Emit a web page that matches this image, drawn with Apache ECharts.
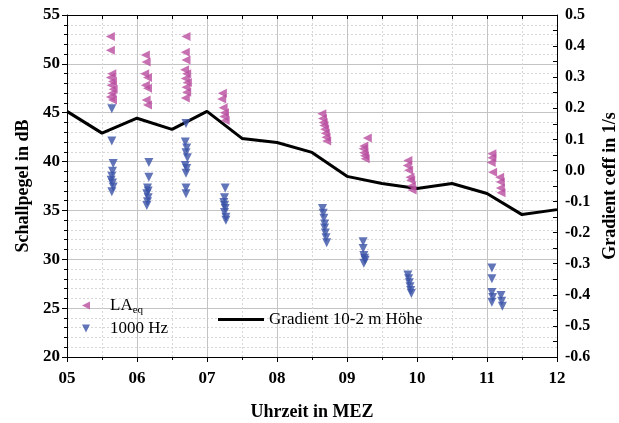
<!DOCTYPE html>
<html>
<head>
<meta charset="utf-8">
<script src="https://cdn.jsdelivr.net/npm/echarts@6/dist/echarts.min.js"></script>
<style>
  html, body { margin: 0; padding: 0; background: #fff; }
  #chart { width: 619px; height: 423px; }
</style>
</head>
<body>
<div id="chart"></div>
<script>
// Schallpegel (dB) – [Uhrzeit, Wert]
var laeq = [
  [5.62, 52.8], [5.62, 51.4], [5.64, 49.0], [5.62, 48.6], [5.65, 48.2], [5.63, 47.8], [5.66, 47.4], [5.64, 47.0], [5.62, 46.6], [5.65, 46.3],
  [6.12, 50.9], [6.13, 50.2], [6.11, 49.0], [6.15, 48.6], [6.12, 47.8], [6.15, 47.5], [6.13, 46.3], [6.15, 45.8],
  [6.70, 52.8], [6.69, 51.2], [6.70, 50.4], [6.68, 49.4], [6.71, 49.0], [6.69, 48.5], [6.72, 48.1], [6.70, 47.6], [6.71, 47.1], [6.69, 46.5],
  [7.22, 47.0], [7.21, 46.4], [7.23, 45.5], [7.25, 45.0], [7.24, 44.6], [7.26, 44.2],
  [8.64, 44.9], [8.65, 44.4], [8.66, 44.0], [8.67, 43.7], [8.68, 43.3], [8.69, 42.9], [8.70, 42.5], [8.71, 42.1],
  [9.29, 42.4], [9.24, 41.6], [9.23, 41.3], [9.24, 40.9], [9.25, 40.6], [9.26, 40.3],
  [9.87, 40.1], [9.86, 39.6], [9.88, 39.1], [9.90, 38.4], [9.91, 38.1], [9.92, 37.5], [9.93, 37.1],
  [11.07, 40.8], [11.07, 40.4], [11.06, 39.9], [11.08, 38.9], [11.18, 38.4], [11.19, 37.9], [11.19, 37.3], [11.20, 36.8]
];
var hz1000 = [
  [5.64, 45.4], [5.64, 42.1], [5.66, 39.8], [5.65, 39.0], [5.64, 38.5], [5.63, 38.1], [5.65, 37.8], [5.66, 37.4], [5.64, 36.9],
  [6.17, 39.9], [6.17, 38.4], [6.15, 37.3], [6.16, 37.0], [6.14, 36.7], [6.16, 36.3], [6.15, 35.9], [6.14, 35.5],
  [6.70, 43.9], [6.69, 42.0], [6.71, 41.4], [6.70, 40.9], [6.72, 40.4], [6.69, 39.6], [6.71, 39.3], [6.70, 38.8], [6.70, 37.3], [6.70, 36.7],
  [7.26, 37.3], [7.25, 36.3], [7.24, 35.8], [7.25, 35.5], [7.26, 35.2], [7.25, 34.8], [7.27, 34.3], [7.27, 34.0],
  [8.65, 35.2], [8.66, 34.7], [8.67, 34.2], [8.68, 33.6], [8.68, 33.2], [8.69, 32.7], [8.70, 32.2], [8.71, 31.7],
  [9.23, 31.8], [9.23, 31.1], [9.24, 30.4], [9.25, 30.1], [9.26, 29.9], [9.24, 29.6],
  [9.87, 28.4], [9.88, 28.0], [9.89, 27.6], [9.90, 27.2], [9.91, 26.8], [9.92, 26.5],
  [11.07, 29.1], [11.07, 28.0], [11.07, 26.6], [11.08, 26.1], [11.07, 25.6], [11.20, 26.3], [11.21, 25.7], [11.22, 25.2]
];
// Gradient 10-2 m (1/s)
var gradHours = [5, 5.5, 6, 6.5, 7, 7.5, 8, 8.5, 9, 9.5, 10, 10.5, 11, 11.5, 12];
var gradVals = [0.19, 0.12, 0.168, 0.132, 0.19, 0.103, 0.09, 0.058, -0.019, -0.042, -0.058, -0.042, -0.074, -0.142, -0.126];

var serif = '"Liberation Serif", "DejaVu Serif", serif';
var magenta = '#b94ea0';
var blue = '#3a53a6';
var triLeft = 'path://M0,5L10,0L10,10Z';
var triDown = 'path://M0,0L10,0L5,10Z';

var gradData = [];
for (let i = 0; i < gradHours.length; i++) {
  gradData.push([gradHours[i], gradVals[i]]);
}

var chart = echarts.init(document.getElementById('chart'));
var option = {
  animation: false,
  grid: { left: 67, right: 62, top: 15, bottom: 66, outerBoundsMode: 'none' },
  legend: [{
    data: [{ name: 'LAeq', icon: triLeft }, { name: '1000 Hz', icon: triDown }],
    orient: 'vertical',
    left: 77, top: 292,
    itemWidth: 8, itemHeight: 8, itemGap: 4,
    textStyle: {
      fontFamily: serif, fontSize: 17, color: '#000',
      rich: {
        m: { fontFamily: serif, fontSize: 17, color: '#000', padding: [0, 0, 0, 15] },
        s: { fontFamily: serif, fontSize: 11, color: '#000', padding: [10, 0, 0, 0] }
      }
    },
    formatter: function (name) {
      return name === 'LAeq' ? '{m|LA}{s|eq}' : '{m|' + name + '}';
    }
  }, {
    data: ['Gradient 10-2 m Höhe'],
    left: 213, top: 306,
    itemWidth: 46, itemHeight: 3,
    icon: 'rect',
    textStyle: { fontFamily: serif, fontSize: 17, color: '#000' }
  }],
  xAxis: [{
    type: 'value', min: 5, max: 12, interval: 1,
    name: 'Uhrzeit in MEZ', nameLocation: 'middle', nameGap: 46,
    nameTextStyle: { fontFamily: serif, fontSize: 18, fontWeight: 'bold', color: '#000' },
    axisLine: { onZero: false, lineStyle: { color: '#000', width: 1 } },
    axisTick: { inside: false, length: 5, lineStyle: { color: '#000' } },
    minorTick: { show: true, splitNumber: 2, length: 3, lineStyle: { color: '#000' } },
    axisLabel: {
      fontFamily: serif, fontSize: 17, fontWeight: 'bold', color: '#000', margin: 13,
      formatter: function (v) { return v < 10 ? '0' + v : '' + v; }
    },
    splitLine: { show: true, lineStyle: { color: '#c4c4c4', width: 1 } },
    minorSplitLine: { show: true, lineStyle: { color: '#d6d6d6', type: [2, 2], width: 1 } }
  }, {
    type: 'value', min: 5, max: 12, interval: 0.5, position: 'top',
    axisLine: { show: true, onZero: false, lineStyle: { color: '#000' } },
    axisTick: { show: true, inside: true, length: 4, lineStyle: { color: '#000' } },
    axisLabel: { show: false },
    splitLine: { show: false }
  }],
  yAxis: [{
    type: 'value', min: 20, max: 55, interval: 5,
    name: 'Schallpegel in dB', nameLocation: 'middle', nameGap: 26, nameRotate: 90,
    nameTextStyle: { fontFamily: serif, fontSize: 18, fontWeight: 'bold', color: '#000' },
    axisLine: { show: true, onZero: false, lineStyle: { color: '#000' } },
    axisTick: { show: true, length: 5, lineStyle: { color: '#000' } },
    minorTick: { show: true, splitNumber: 5, length: 3, lineStyle: { color: '#000' } },
    axisLabel: { fontFamily: serif, fontSize: 17, fontWeight: 'bold', color: '#000', margin: 7 },
    splitLine: { show: true, lineStyle: { color: '#c4c4c4', width: 1 } },
    minorSplitLine: { show: true, lineStyle: { color: '#d6d6d6', type: [2, 2], width: 1 } }
  }, {
    type: 'value', min: -0.6, max: 0.5, interval: 0.1, position: 'right',
    name: 'Gradient ceff in 1/s', nameLocation: 'middle', nameGap: 40, nameRotate: 90,
    nameTextStyle: { fontFamily: serif, fontSize: 18, fontWeight: 'bold', color: '#000' },
    axisLine: { show: true, onZero: false, lineStyle: { color: '#000' } },
    axisTick: { show: true, inside: true, length: 4, lineStyle: { color: '#000' } },
    minorTick: { show: true, splitNumber: 2, length: 4, lineStyle: { color: '#000' } },
    axisLabel: {
      fontFamily: serif, fontSize: 16, fontWeight: 'bold', color: '#000', margin: 8,
      formatter: function (v) { return v.toFixed(1); }
    },
    splitLine: { show: false }
  }],
  series: [{
    name: 'Gradient 10-2 m Höhe',
    type: 'line',
    yAxisIndex: 1,
    data: gradData,
    showSymbol: false,
    symbol: 'none',
    itemStyle: { color: '#000' },
    lineStyle: { color: '#000', width: 3 },
    z: 3
  }, {
    name: 'LAeq',
    type: 'scatter',
    data: laeq,
    symbol: triLeft,
    symbolSize: 9,
    itemStyle: { color: magenta },
    z: 4
  }, {
    name: '1000 Hz',
    type: 'scatter',
    data: hz1000,
    symbol: triDown,
    symbolSize: 9,
    itemStyle: { color: blue },
    z: 4
  }]
};
chart.setOption(option);
</script>
</body>
</html>
